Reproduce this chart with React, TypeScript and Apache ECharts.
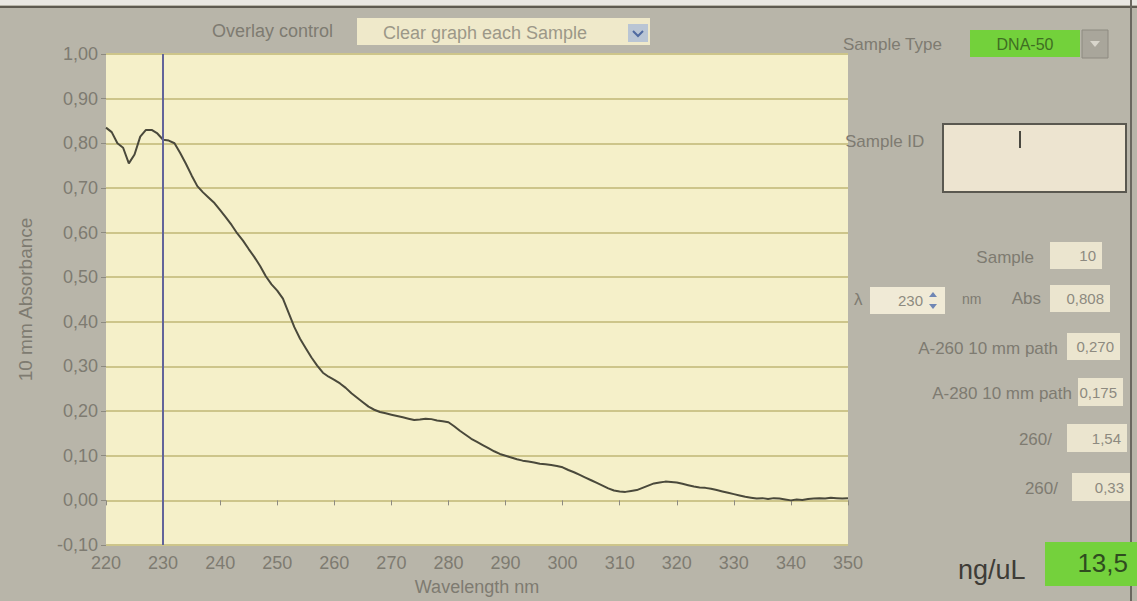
import React, { useEffect, useRef } from "react";
import * as echarts from "echarts";

// Wavelength range (nm), one reading per nm
const WL_START = 220;
const WL_END = 350;
const xTicks = [220, 230, 240, 250, 260, 270, 280, 290, 300, 310, 320, 330, 340, 350];
const yTicks = [-0.1, 0, 0.1, 0.2, 0.3, 0.4, 0.5, 0.6, 0.7, 0.8, 0.9, 1.0];

// 10 mm absorbance, 220..350 nm
const absorbance = [
  0.835, 0.825, 0.800, 0.790, 0.755, 0.775, 0.815, 0.830, 0.830, 0.822, // 220-229
  0.808, 0.806, 0.800, 0.778, 0.754, 0.728, 0.704, 0.690, 0.678, 0.666, // 230-239
  0.650, 0.634, 0.617, 0.598, 0.582, 0.563, 0.545, 0.525, 0.502, 0.484, // 240-249
  0.470, 0.452, 0.420, 0.388, 0.362, 0.341, 0.320, 0.302, 0.286, 0.277, // 250-259
  0.270, 0.262, 0.252, 0.240, 0.230, 0.220, 0.210, 0.203, 0.198, 0.195, // 260-269
  0.192, 0.189, 0.186, 0.183, 0.180, 0.181, 0.183, 0.182, 0.179, 0.177, // 270-279
  0.175, 0.166, 0.156, 0.147, 0.138, 0.131, 0.124, 0.117, 0.110, 0.104, // 280-289
  0.100, 0.096, 0.092, 0.089, 0.087, 0.085, 0.082, 0.081, 0.079, 0.077, // 290-299
  0.074, 0.068, 0.063, 0.057, 0.051, 0.045, 0.039, 0.033, 0.027, 0.022, // 300-309
  0.020, 0.019, 0.021, 0.023, 0.028, 0.033, 0.038, 0.040, 0.042, 0.041, // 310-319
  0.040, 0.037, 0.034, 0.031, 0.029, 0.028, 0.026, 0.023, 0.020, 0.017, // 320-329
  0.014, 0.011, 0.008, 0.006, 0.004, 0.005, 0.003, 0.005, 0.004, 0.002, // 330-339
  0.000, 0.002, 0.001, 0.003, 0.004, 0.005, 0.004, 0.006, 0.005, 0.004, // 340-349
  0.005, // 350
];

const cursorWavelength = 230;

// Side panel readouts
const panelLabels = ["Sample", "Abs", "A-260 10 mm path", "A-280 10 mm path", "260/", "260/"];
const panelValues = ["10", "0,808", "0,270", "0,175", "1,54", "0,33"];
const sampleType = "DNA-50";
const overlayChoice = "Clear graph each Sample";
const concentration = "13,5";

const FONT = "'Liberation Sans Narrow', 'Liberation Sans', Arial, sans-serif";
const GRAY = "#7e7b71";

export default function App() {
  const ref = useRef<HTMLDivElement>(null);

  useEffect(() => {
    if (!ref.current) return;
    const chart = echarts.init(ref.current, null, { renderer: "svg" });
    const data = absorbance.map((v, i) => [WL_START + i, v]);

    const label = (x: number, y: number, text: string, opts: any = {}) => ({
      type: "text",
      x,
      y,
      style: {
        text,
        fill: opts.fill || GRAY,
        font: `${opts.size || 17}px ${FONT}`,
        textAlign: opts.align || "left",
        textVerticalAlign: "middle",
      },
    });
    const box = (x: number, y: number, w: number, h: number, fill: string, stroke?: string, lw = 1) => ({
      type: "rect",
      shape: { x, y, width: w, height: h },
      style: { fill, stroke: stroke || "none", lineWidth: lw },
    });

    const boxes = [
      { x: 1050, y: 242, w: 52, h: 27, ly: 257, lx: 1034 },
      { x: 1050, y: 285, w: 60, h: 27, ly: 298, lx: 1041 },
      { x: 1067, y: 333, w: 53, h: 27, ly: 348, lx: 1058 },
      { x: 1078, y: 378, w: 45, h: 28, ly: 393, lx: 1072 },
      { x: 1067, y: 424, w: 60, h: 28, ly: 439, lx: 1052 },
      { x: 1072, y: 473, w: 58, h: 28, ly: 488, lx: 1058 },
    ];

    const panel: any[] = [];
    boxes.forEach((b, i) => {
      panel.push(box(b.x, b.y, b.w, b.h, "#ebe5cf"));
      panel.push(label(b.x + b.w - 6, b.y + b.h / 2, panelValues[i], { align: "right", fill: "#8d8a80", size: 15 }));
      panel.push(label(b.lx, b.ly, panelLabels[i], { align: "right", size: 17 }));
    });

    chart.setOption({
      animation: false,
      backgroundColor: "#b8b5a9",
      grid: {
        left: 106,
        right: 289,
        top: 54,
        bottom: 51,
        show: true,
        backgroundColor: "#f5f0c9",
        borderWidth: 0,
      },
      xAxis: {
        type: "value",
        min: WL_START,
        max: WL_END,
        interval: 10,
        name: "Wavelength nm",
        nameLocation: "middle",
        nameGap: 33,
        nameTextStyle: { color: GRAY, fontSize: 18, fontFamily: FONT },
        axisLine: { show: false },
        axisTick: { show: true, length: 5, lineStyle: { color: "#8d8a80" } },
        axisLabel: {
          color: GRAY,
          fontSize: 18,
          fontFamily: FONT,
          margin: 9,
          customValues: xTicks,
        },
        splitLine: { show: false },
      },
      yAxis: {
        type: "value",
        min: -0.1,
        max: 1.0,
        interval: 0.1,
        name: "10 mm Absorbance",
        nameLocation: "middle",
        nameGap: 71,
        nameTextStyle: { color: GRAY, fontSize: 19, fontFamily: FONT },
        axisLine: { show: false },
        axisTick: { show: true, length: 5, lineStyle: { color: "#8d8a80" } },
        axisLabel: {
          color: GRAY,
          fontSize: 18,
          fontFamily: FONT,
          margin: 8,
          formatter: (v: number) => {
            const match = yTicks.find((t) => Math.abs(t - v) < 1e-6);
            const val = match !== undefined ? match : v;
            return val.toFixed(2).replace(".", ",");
          },
        },
        splitLine: { show: true, lineStyle: { color: "#cdc58a", width: 2 } },
      },
      series: [
        {
          type: "line",
          data,
          symbol: "none",
          lineStyle: { color: "#4a493b", width: 2 },
          markLine: {
            silent: true,
            symbol: "none",
            label: { show: false },
            lineStyle: { color: "#62649a", width: 2, type: "solid" },
            data: [{ xAxis: cursorWavelength }],
          },
        },
      ],
      graphic: [
        // photo top edge / bezel
        box(0, 0, 1137, 5, "#e9e7e2"),
        { type: "line", shape: { x1: 0, y1: 7, x2: 1137, y2: 7 }, style: { stroke: "#5e5a50", lineWidth: 2 } },
        { type: "line", shape: { x1: 1131, y1: 0, x2: 1131, y2: 601 }, style: { stroke: "#6a675f", lineWidth: 2 } },
        // overlay control
        label(212, 31, "Overlay control", { size: 18 }),
        box(357, 18, 293, 27, "#efe9ca"),
        label(383, 33, overlayChoice, { fill: "#9c9888", size: 18 }),
        box(628, 24, 20, 18, "#b9c5d4"),
        { type: "polyline", shape: { points: [[633, 31], [638, 36], [643, 31]] }, style: { stroke: "#4f6aa0", lineWidth: 2, fill: "none" } },
        // sample type
        label(843, 44, "Sample Type", { size: 17 }),
        box(970, 30, 110, 27, "#73d13b"),
        label(1025, 44, sampleType, { align: "center", fill: "#3f6e22", size: 16 }),
        box(1082, 30, 26, 28, "#a9a69b", "#8d8a80"),
        { type: "polygon", shape: { points: [[1090, 41], [1100, 41], [1095, 47]] }, style: { fill: "#d9d6cc" } },
        // sample id
        label(845, 141, "Sample ID", { size: 17 }),
        box(943, 124, 183, 68, "#ede4d0", "#5a5850", 2),
        { type: "line", shape: { x1: 1020, y1: 131, x2: 1020, y2: 148 }, style: { stroke: "#4a4840", lineWidth: 2 } },
        // wavelength spinner
        label(854, 299, "λ", { size: 17 }),
        box(870, 287, 75, 27, "#f0ead6"),
        label(898, 300, String(cursorWavelength), { fill: "#8d8a80", size: 15 }),
        { type: "polygon", shape: { points: [[929, 297], [937, 297], [933, 292]] }, style: { fill: "#6f86b4" } },
        { type: "polygon", shape: { points: [[929, 304], [937, 304], [933, 309]] }, style: { fill: "#6f86b4" } },
        label(962, 299, "nm", { size: 14 }),
        ...panel,
        // concentration
        label(958, 570, "ng/uL", { fill: "#3e3c37", size: 27 }),
        box(1045, 542, 92, 44, "#74d13c"),
        label(1128, 563, concentration, { align: "right", fill: "#2f4c1f", size: 26 }),
      ],
    });

    return () => chart.dispose();
  }, []);

  return (
    <div
      ref={ref}
      style={{ position: "fixed", left: 0, top: 0, width: 1137, height: 601 }}
    />
  );
}
